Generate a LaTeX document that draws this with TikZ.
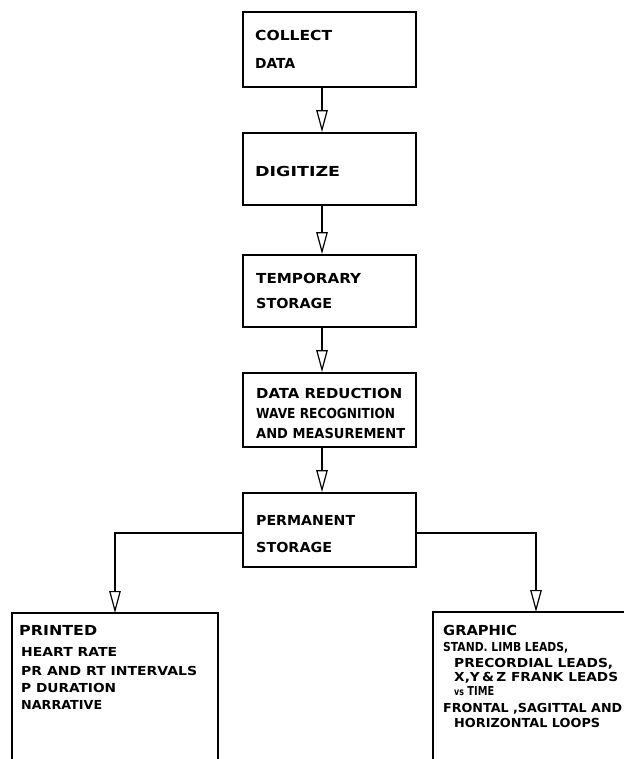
\documentclass[tikz,border=0pt]{standalone}
\usepackage{graphicx}
\usepackage{fontspec}
\setmainfont{DejaVu Sans}
\usetikzlibrary{arrows.meta}
\newcommand\fitw[2]{\resizebox{#1pt}{\height}{#2}}
\tikzset{
  box/.style={draw, line width=1.8pt, rectangle, inner sep=0pt, minimum width=173pt},
  lbl/.style={anchor=west, inner sep=0pt, text height=10pt, text depth=0pt,
              font=\bfseries\fontsize{13.8}{15}\selectfont},
  slbl/.style={anchor=west, inner sep=0pt, text height=9pt, text depth=0pt,
              font=\bfseries\fontsize{12.4}{14}\selectfont},
  hlbl/.style={anchor=west, inner sep=0pt, text height=10pt, text depth=0pt,
              font=\bfseries\fontsize{13.8}{15}\selectfont},
  conn/.style={line width=1.3pt, -{Triangle[open, length=22pt, width=11.5pt, line width=1.2pt]}},
  frame/.style={line width=1.8pt, line cap=rect},
}
\begin{document}
\begin{tikzpicture}[x=1pt, y=-1pt]
\useasboundingbox (0,0) rectangle (623,759);
% main column boxes
\node[box, minimum height=75pt] (collect) at (329.5,49.5) {};
\node[box, minimum height=72pt] (digitize) at (329.5,169) {};
\node[box, minimum height=72pt] (temp) at (329.5,291) {};
\node[box, minimum height=74pt] (reduct) at (329.5,410) {};
\node[box, minimum height=74pt] (perm) at (329.5,530) {};
% labels
\node[lbl] (t1) at (255,36) {\fitw{77}{COLLECT}};
\node[lbl] (t2) at (255,64) {\fitw{40}{DATA}};
\node[lbl] (t3) at (255,172) {\fitw{85}{DIGITIZE}};
\node[lbl] (t4) at (256,278) {\fitw{105}{TEMPORARY}};
\node[lbl] (t5) at (256,303) {\fitw{76}{STORAGE}};
\node[lbl] (t6) at (256,393) {\fitw{146}{DATA REDUCTION}};
\node[lbl] (t7) at (256,413) {\fitw{139}{WAVE RECOGNITION}};
\node[lbl] (t8) at (256,433) {\fitw{149}{AND MEASUREMENT}};
\node[lbl] (t9) at (256,520) {\fitw{99}{PERMANENT}};
\node[lbl] (t10) at (256,547) {\fitw{76}{STORAGE}};
% arrow column
\coordinate (ax) at (322,0);
\draw[conn] (collect.south -| ax) -- (digitize.north -| ax);
\draw[conn] (digitize.south -| ax) -- (temp.north -| ax);
\draw[conn] (temp.south -| ax) -- (reduct.north -| ax);
\draw[conn] (reduct.south -| ax) -- (perm.north -| ax);
% lower boxes (cut by the page edge)
\coordinate (ptop) at (115,613);
\coordinate (gtop) at (536,612);
\draw[frame] (12,759) -- (12,613) -- (218,613) -- (218,759);
\draw[frame] (623,612) -- (433,612) -- (433,759);
% branches
\coordinate (bl) at (115,533);
\coordinate (br) at (536,533);
\draw[conn] (perm.west |- bl) -- (bl) -- (ptop);
\draw[conn] (perm.east |- br) -- (br) -- (gtop);
% printed box text
\node[hlbl] (p1) at (19,630) {\fitw{78}{PRINTED}};
\node[slbl] (p2) at (21,652) {\fitw{96}{HEART RATE}};
\node[slbl] (p3) at (21,671) {\fitw{176}{PR AND RT INTERVALS}};
\node[slbl] (p4) at (21,688) {\fitw{95}{P DURATION}};
\node[slbl] (p5) at (21,705) {\fitw{81}{NARRATIVE}};
% graphic box text
\node[hlbl] (g1) at (443,630) {\fitw{74}{GRAPHIC}};
\node[slbl] (g2) at (443,647) {\fitw{125}{STAND. LIMB LEADS,}};
\node[slbl] (g3) at (454,663) {\fitw{159}{PRECORDIAL LEADS,}};
\node[slbl] (g4) at (454,677) {\fitw{164}{X,Y\,\&\,Z FRANK LEADS}};
\node[slbl] (g5) at (454,691) {\fitw{40}{{\fontsize{10}{12}\selectfont vs} TIME}};
\node[slbl] (g6) at (443,708) {\fitw{179}{FRONTAL ,SAGITTAL AND}};
\node[slbl] (g7) at (454,723) {\fitw{146}{HORIZONTAL LOOPS}};
\end{tikzpicture}
\end{document}
